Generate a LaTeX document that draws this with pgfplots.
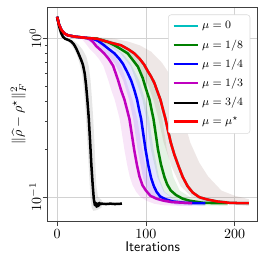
\documentclass[border=0pt]{standalone}
\usepackage{pgfplots}
\pgfplotsset{compat=1.18}
\usepackage{amsmath}
\definecolor{mc}{rgb}{0,0.75,0.75}
\definecolor{mg}{rgb}{0,0.5,0}
\definecolor{mb}{rgb}{0,0,1}
\definecolor{mm}{rgb}{0.75,0,0.75}
\definecolor{mk}{rgb}{0,0,0}
\definecolor{mr}{rgb}{1,0,0}
\definecolor{bandr}{rgb}{0.55,0.38,0.34}
\definecolor{axgray}{rgb}{0.25,0.25,0.25}
\begin{document}
\begin{tikzpicture}
\useasboundingbox (-34pt,-32pt) rectangle (156pt,158pt);
\begin{axis}[
  at={(0,0)}, anchor=south west,
  scale only axis,
  width=150pt, height=153pt,
  xmin=-10.75, xmax=225.75,
  ymode=log, ymin=0.0706, ymax=1.567,
  xtick={0,100,200},
  ytick={0.1,1},
  tick pos=left,
  tick align=outside,
  major tick length=3.5pt,
  minor tick length=2pt,
  grid=major,
  major grid style={gray!35, line width=0.5pt},
  axis line style={axgray, line width=0.6pt},
  every tick/.style={axgray, line width=0.6pt},
  yticklabel style={rotate=90, anchor=south, inner sep=1pt},
  xticklabel style={inner sep=1pt, yshift=-1pt},
  xlabel={\sffamily Iterations},
  ylabel={$\|\widehat{\rho}-\rho^\star\|_F^2$},
  xlabel style={yshift=2pt},
  ylabel style={yshift=-2pt},
  legend style={at={(0.965,0.965)}, anchor=north east, draw=gray!30, rounded corners=2pt,
    fill=white, font=\footnotesize, row sep=2.2pt,
    inner xsep=3pt, inner ysep=3pt},
  legend cell align=left,
  legend image code/.code={\draw[#1, line width=1.5pt] (0cm,0cm) -- (0.62cm,0cm);},
]
% ---------- bands ----------
\addplot[fill=gray, fill opacity=0.2, draw=none, forget plot] coordinates {
(0,1.36)(4,1.05)(7,0.99)(13,0.95)(18,0.87)(22,0.79)(25,0.7)(28,0.6)(30,0.48)(32,0.35)(34,0.22)(36,0.14)(37.5,0.1)(39,0.085)(41,0.082)(45,0.083)(50,0.086)
(50,0.096)(46,0.1)(44,0.12)(43,0.16)(42,0.22)(40.5,0.32)(39,0.43)(37.5,0.55)(35.5,0.67)(33,0.76)(29,0.84)(24,0.91)(19,0.96)(13,0.99)(8,1.02)(0,1.36)
} -- cycle;
\addplot[fill=mm, fill opacity=0.1, draw=none, forget plot] coordinates {
(20,1.02)(27,1.0)(33,0.91)(37,0.85)(42,0.8)(47,0.74)(52,0.67)(57.3,0.55)(61,0.47)(64.8,0.41)(68,0.35)(70.4,0.31)(73,0.25)(76,0.195)(79,0.158)(81.7,0.135)(85,0.119)(89,0.108)(94,0.1)(100.5,0.095)(109,0.091)(119,0.089)(141,0.088)(152,0.088)
(152,0.095)(139,0.095)(129,0.097)(120.5,0.1)(114,0.104)(109,0.112)(105,0.122)(101.7,0.138)(99,0.16)(96,0.2)(93,0.25)(90.4,0.31)(88,0.35)(84.8,0.41)(81,0.47)(77.3,0.55)(72,0.67)(67,0.74)(62,0.8)(56,0.86)(51,0.91)(47,0.96)(43,1.0)(34,1.01)(20,1.02)
} -- cycle;
\addplot[fill=mb, fill opacity=0.1, draw=none, forget plot] coordinates {
(20,1.02)(31,0.99)(44,0.9)(55.6,0.8)(65,0.69)(74.4,0.54)(81,0.41)(85.6,0.31)(90.5,0.2)(96.8,0.132)(103,0.107)(113,0.095)(136,0.089)(167,0.088)
(167,0.095)(154,0.095)(131,0.098)(121,0.108)(114.8,0.132)(108.5,0.2)(103.6,0.31)(99,0.41)(92.4,0.54)(83,0.69)(73.6,0.8)(62,0.9)(49,0.99)(35,1.01)(20,1.02)
} -- cycle;
\addplot[fill=mg, fill opacity=0.1, draw=none, forget plot] coordinates {
(20,1.02)(37,0.99)(56.6,0.9)(71.5,0.8)(83,0.66)(92,0.48)(96,0.41)(100.5,0.31)(105.5,0.2)(112.8,0.134)(120,0.108)(133,0.095)(157,0.089)(192,0.088)
(192,0.095)(175,0.095)(151,0.099)(138,0.11)(130.8,0.134)(123.5,0.2)(118.5,0.31)(114,0.41)(110,0.48)(101,0.66)(89.5,0.8)(74.6,0.9)(55,0.99)(30,1.02)(20,1.02)
} -- cycle;
\addplot[fill=bandr, fill opacity=0.15, draw=none, forget plot] coordinates {
(20,1.02)(37,0.99)(54,0.93)(72,0.85)(85,0.74)(94,0.62)(101.6,0.52)(108.3,0.41)(114,0.31)(120,0.22)(129,0.155)(139,0.117)(152,0.1)(172,0.092)(216,0.088)
(216,0.097)(200,0.102)(185,0.11)(170,0.135)(160,0.165)(150,0.22)(143,0.3)(137.5,0.38)(131,0.48)(126,0.6)(118,0.7)(106,0.82)(93,0.9)(80,0.95)(65,0.99)(40,1.02)(20,1.02)
} -- cycle;
% ---------- lines ----------
\addplot[mc, line width=1.8pt, line join=round] coordinates {
(0,1.36)(2,1.22)(4.6,1.13)(8,1.07)(12,1.04)(20,1.02)(34,1.0)(45,0.99)(53,0.96)(62,0.93)(72,0.9)(80,0.85)(87,0.8)(93,0.74)(98,0.68)(102,0.62)(106,0.57)(109.6,0.52)(113,0.46)(116.3,0.41)(119.5,0.35)(122,0.31)(125,0.26)(128,0.22)(132,0.185)(137,0.155)(141.4,0.134)(147,0.117)(152.6,0.107)(160,0.1)(168,0.097)(180,0.094)(195,0.092)(216,0.0916)
};
\addlegendentry{$\mu = 0$}
\addplot[mg, line width=1.8pt, line join=round] coordinates {
(0,1.36)(2,1.22)(4.6,1.13)(8,1.07)(12,1.04)(20,1.02)(34,1.0)(45,0.99)(53,0.96)(58,0.94)(64.6,0.9)(72,0.85)(79.5,0.8)(85,0.73)(91,0.66)(96.4,0.56)(100,0.48)(104,0.41)(106.5,0.35)(108.5,0.31)(111,0.25)(113.5,0.2)(117,0.16)(120.8,0.134)(124,0.12)(128,0.11)(134,0.103)(141,0.098)(149,0.095)(165,0.092)(192,0.0916)
};
\addlegendentry{$\mu = 1/8$}
\addplot[mb, line width=1.8pt, line join=round] coordinates {
(0,1.36)(2,1.22)(4.6,1.13)(8,1.07)(12,1.04)(20,1.02)(34,1.0)(40,0.99)(46,0.96)(53,0.9)(58.5,0.85)(64.6,0.8)(70,0.74)(74,0.69)(79,0.61)(83.4,0.54)(87,0.47)(90,0.41)(92.5,0.35)(94.6,0.31)(97,0.25)(99.5,0.2)(102.5,0.16)(105.8,0.132)(109,0.117)(112,0.108)(116,0.101)(122,0.097)(130,0.094)(145,0.092)(167,0.0916)
};
\addlegendentry{$\mu = 1/4$}
\addplot[mm, line width=1.8pt, line join=round] coordinates {
(0,1.36)(2,1.22)(4.6,1.13)(8,1.07)(12,1.04)(20,1.02)(34,1.0)(37,0.98)(40,0.95)(44,0.89)(48,0.85)(53,0.8)(58,0.74)(63,0.67)(68.3,0.55)(72,0.47)(75.8,0.41)(79,0.35)(81.4,0.31)(84,0.25)(87,0.195)(90,0.158)(92.7,0.135)(96,0.119)(100,0.11)(105,0.102)(111.5,0.098)(120,0.095)(130,0.093)(152,0.0916)
};
\addlegendentry{$\mu = 1/3$}
\addplot[mk, line width=1.8pt, line join=round] coordinates {
(0,1.36)(1,1.28)(2.5,1.17)(4.6,1.07)(6.5,1.02)(9,0.99)(13,0.97)(16,0.95)(19,0.91)(21.5,0.86)(24,0.8)(27,0.73)(29,0.68)(31,0.6)(32.5,0.51)(34,0.41)(35.5,0.32)(37,0.23)(38.5,0.16)(40,0.12)(41.3,0.097)(42.5,0.089)(43.5,0.092)(44.5,0.087)(45.5,0.091)(46.5,0.088)(47.5,0.092)(48.5,0.09)(50,0.091)(55,0.0905)(60,0.091)(65,0.0905)(73,0.091)
};
\addlegendentry{$\mu = 3/4$}
\addplot[mr, line width=1.8pt, line join=round] coordinates {
(0,1.36)(2,1.22)(4.6,1.13)(8,1.07)(12,1.04)(20,1.02)(34,1.0)(45,0.99)(53,0.96)(62,0.93)(72,0.9)(80,0.85)(87,0.8)(93,0.74)(98,0.68)(102,0.62)(106,0.57)(109.6,0.52)(113,0.46)(116.3,0.41)(119.5,0.35)(122,0.31)(125,0.26)(128,0.22)(132,0.185)(137,0.155)(141.4,0.134)(147,0.117)(152.6,0.107)(160,0.1)(168,0.097)(180,0.094)(195,0.092)(216,0.0916)
};
\addlegendentry{$\mu = \mu^\star$}
\end{axis}
\end{tikzpicture}
\end{document}
